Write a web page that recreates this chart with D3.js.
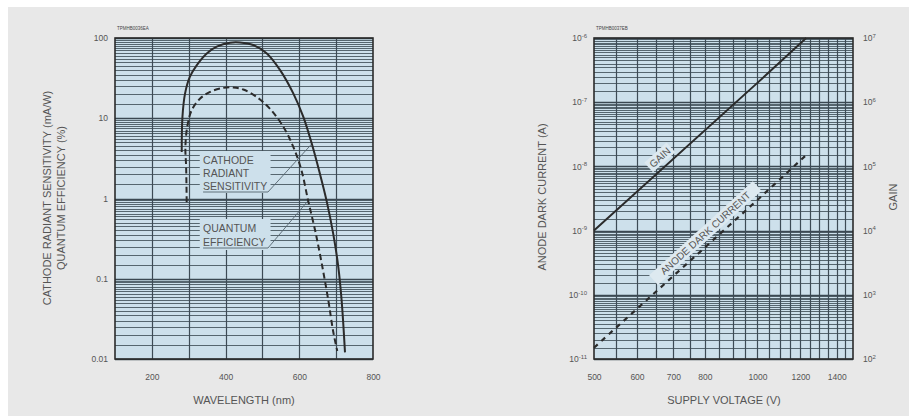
<!DOCTYPE html>
<html>
<head>
<meta charset="utf-8">
<script src="https://cdn.jsdelivr.net/npm/d3@7/dist/d3.min.js"></script>
<style>
  html, body { margin: 0; padding: 0; background: #ffffff; }
  svg { display: block; font-family: "Liberation Sans", Arial, sans-serif; }
</style>
</head>
<body>
<svg id="chart" width="909" height="416"></svg>
<script>
// ---- Spectral response (left panel) ----
const wavelengthTicks = [200, 400, 600, 800];
const responseTicks = [0.01, 0.1, 1, 10, 100];
const responseTickLabels = ["0.01", "0.1", "1", "10", "100"];

// cathode radiant sensitivity (mA/W) vs wavelength (nm)
const sensWavelength = [281, 283, 290, 303, 322, 349, 376, 412, 439, 475, 512, 548, 584, 611, 634, 656, 674, 692, 706, 715, 724];
const sensValue      = [3.8, 10.4, 20.3, 32.8, 46, 64.3, 77.9, 87.4, 88, 81.8, 64.3, 39.8, 20.3, 10.4, 4.8, 2.03, 0.94, 0.365, 0.139, 0.053, 0.0121];

// quantum efficiency (%) vs wavelength (nm)
const qeWavelength = [294.5, 293, 291, 296, 308, 331, 358, 394, 421, 448, 484, 520, 557, 584, 606, 624, 643, 661, 679, 692, 703];
const qeValue      = [0.9, 2.46, 4.38, 7.8, 12.6, 17.6, 21.3, 23.9, 24.2, 22.8, 18.5, 13.2, 7.8, 4.38, 2.24, 0.94, 0.4, 0.154, 0.053, 0.022, 0.0126];

// ---- Gain / dark current (right panel) ----
const voltageTicks = [500, 600, 700, 800, 1000, 1200, 1400];
const currentTicks = [1e-11, 1e-10, 1e-9, 1e-8, 1e-7, 1e-6];
const currentExponents = ["-11", "-10", "-9", "-8", "-7", "-6"];
const gainTicks = [1e2, 1e3, 1e4, 1e5, 1e6, 1e7];
const gainExponents = ["2", "3", "4", "5", "6", "7"];

const gainVoltage = [500, 1000, 1230];
const gainValue   = [1e4, 2.0e6, 1e7];
const darkVoltage = [500, 1000, 1240];
const darkCurrent = [1.5e-11, 3.0e-9, 1.6e-8];

// log-paper subdivisions inside each decade
const decadeSubdivisions = [1.5, 2, 2.5, 3, 3.5, 4, 4.5, 5, 5.5, 6, 6.5, 7, 7.5, 8, 8.5, 9, 9.5];

const svg = d3.select("#chart");
const INK = "#2b2b2b";
const TEXT = "#555555";
const PLOT_BG = "#cde0eb";

svg.append("rect").attr("x", 8).attr("y", 7).attr("width", 901).attr("height", 409).attr("fill", "#e8e8e8");

function minorValues(lo, hi) {
  const out = [];
  for (let e = Math.round(Math.log10(lo)); e < Math.round(Math.log10(hi)); e++) {
    decadeSubdivisions.forEach(s => out.push(s * Math.pow(10, e)));
  }
  return out;
}

function drawHorizontalGrid(g, y, x0, x1, majors) {
  const [lo, hi] = y.domain();
  g.selectAll(null).data(minorValues(lo, hi)).enter().append("line")
    .attr("x1", x0).attr("x2", x1)
    .attr("y1", d => Math.round(y(d)) + 0.5).attr("y2", d => Math.round(y(d)) + 0.5)
    .attr("stroke", "#56666f").attr("stroke-width", 1);
  g.selectAll(null).data(majors).enter().append("line")
    .attr("x1", x0).attr("x2", x1)
    .attr("y1", d => Math.round(y(d)) + 0.5).attr("y2", d => Math.round(y(d)) + 0.5)
    .attr("stroke", "#3b4852").attr("stroke-width", 1.3);
}

function drawVerticalGrid(g, x, values, y0, y1) {
  g.selectAll(null).data(values).enter().append("line")
    .attr("y1", y0).attr("y2", y1)
    .attr("x1", d => Math.round(x(d)) + 0.5).attr("x2", d => Math.round(x(d)) + 0.5)
    .attr("stroke", "#3d4b55").attr("stroke-width", 1.2);
}

function superscriptLabels(sel, exps) {
  sel.selectAll(".tick text").each(function(d, i) {
    const t = d3.select(this);
    t.text("10");
    t.append("tspan").attr("dy", -3.5).attr("font-size", 6).text(exps[i]);
  });
}

function styleAxis(sel) {
  sel.select(".domain").remove();
  sel.selectAll(".tick line").remove();
  sel.selectAll(".tick text").attr("fill", TEXT).attr("font-size", 8.5)
    .attr("font-family", "'Liberation Sans', Arial, sans-serif");
}

// ================= LEFT PANEL =================
{
  const L = 115, R = 373, T = 38, B = 359;
  const x = d3.scaleLinear().domain([100, 800]).range([L, R]);
  const y = d3.scaleLog().domain([0.01, 100]).range([B, T]);
  const g = svg.append("g");

  g.append("rect").attr("x", L).attr("y", T).attr("width", R - L).attr("height", B - T).attr("fill", PLOT_BG);
  drawHorizontalGrid(g, y, L, R, responseTicks);
  drawVerticalGrid(g, x, d3.range(200, 800, 100), T, B);

  // annotation blocks knock out the grid behind the labels
  const ann = g.append("g");
  ann.append("rect").attr("x", x(330)).attr("y", 151).attr("width", x(522) - x(330)).attr("height", 42).attr("fill", PLOT_BG);
  ann.append("rect").attr("x", x(330)).attr("y", 219).attr("width", x(522) - x(330)).attr("height", 31).attr("fill", PLOT_BG);

  const line = d3.line().curve(d3.curveCatmullRom.alpha(0.5)).x(d => x(d[0])).y(d => y(d[1]));
  g.append("path").datum(d3.zip(sensWavelength, sensValue)).attr("d", line)
    .attr("fill", "none").attr("stroke", INK).attr("stroke-width", 2);
  g.append("path").datum(d3.zip(qeWavelength, qeValue)).attr("d", line)
    .attr("fill", "none").attr("stroke", INK).attr("stroke-width", 2).attr("stroke-dasharray", "6,3.5");

  g.append("rect").attr("x", L).attr("y", T).attr("width", R - L).attr("height", B - T)
    .attr("fill", "none").attr("stroke", INK).attr("stroke-width", 1.6);

  // curve labels with leader lines
  const tx = x(339);
  const labelStyle = s => s.attr("fill", TEXT).attr("font-size", 10.5).attr("x", tx);
  ann.append("text").call(labelStyle).attr("y", 164).text("CATHODE");
  ann.append("text").call(labelStyle).attr("y", 177).text("RADIANT");
  ann.append("text").call(labelStyle).attr("y", 190).text("SENSITIVITY");
  ann.append("text").call(labelStyle).attr("y", 232).text("QUANTUM");
  ann.append("text").call(labelStyle).attr("y", 246).text("EFFICIENCY");
  const ux = x(515);
  ann.append("path").attr("d", `M${tx},192 L${ux},192 L${x(634)},${y(4.8)}`)
    .attr("fill", "none").attr("stroke", "#55646e").attr("stroke-width", 0.9);
  ann.append("path").attr("d", `M${tx},248 L${ux},248 L${x(624)},${y(0.94)}`)
    .attr("fill", "none").attr("stroke", "#55646e").attr("stroke-width", 0.9);

  g.append("g").attr("transform", `translate(0,${B + 12})`)
    .call(d3.axisBottom(x).tickValues(wavelengthTicks).tickSize(0).tickFormat(d3.format("d")))
    .call(styleAxis);
  g.append("g").attr("transform", `translate(${L - 4},0)`)
    .call(d3.axisLeft(y).tickValues(responseTicks).tickSize(0).tickFormat((d, i) => responseTickLabels[i]))
    .call(styleAxis);

  g.append("text").attr("x", L + 2).attr("y", 30).attr("font-size", 4.5).attr("fill", "#444").text("TPMHB0036EA");

  g.append("text").attr("transform", "translate(51,198) rotate(-90)").attr("text-anchor", "middle")
    .attr("fill", TEXT).attr("font-size", 11).text("CATHODE RADIANT SENSITIVITY (mA/W)");
  g.append("text").attr("transform", "translate(65,198) rotate(-90)").attr("text-anchor", "middle")
    .attr("fill", TEXT).attr("font-size", 11).text("QUANTUM EFFICIENCY (%)");
  g.append("text").attr("x", 244).attr("y", 404).attr("text-anchor", "middle")
    .attr("fill", TEXT).attr("font-size", 11).text("WAVELENGTH (nm)");
}

// ================= RIGHT PANEL =================
{
  const L = 594, R = 853, T = 38, B = 359;
  const x = d3.scaleLog().domain([500, 1500]).range([L, R]);
  const yI = d3.scaleLog().domain([1e-11, 1e-6]).range([B, T]);
  const yG = d3.scaleLog().domain([1e2, 1e7]).range([B, T]);
  const g = svg.append("g");

  g.append("rect").attr("x", L).attr("y", T).attr("width", R - L).attr("height", B - T).attr("fill", PLOT_BG);
  drawHorizontalGrid(g, yI, L, R, currentTicks);
  drawVerticalGrid(g, x, d3.range(550, 1500, 50), T, B);

  // labels along the lines, on light backing strips
  function lineLabel(xs, ys, yScale, v, text, w, off) {
    const p0 = [x(xs[0]), yScale(ys[0])];
    const p1 = [x(xs[xs.length - 1]), yScale(ys[ys.length - 1])];
    const ang = Math.atan2(p1[1] - p0[1], p1[0] - p0[0]);
    const cx = x(v);
    const t = (cx - p0[0]) / (p1[0] - p0[0]);
    const cy = p0[1] + t * (p1[1] - p0[1]);
    const nx = Math.sin(ang) * off, ny = -Math.cos(ang) * off;
    const lg = g.append("g").attr("transform", `translate(${cx + nx},${cy + ny}) rotate(${ang * 180 / Math.PI})`);
    lg.append("rect").attr("x", -w / 2).attr("y", -6.5).attr("width", w).attr("height", 13).attr("fill", "#dde9f0");
    lg.append("text").attr("text-anchor", "middle").attr("dy", "0.36em").attr("fill", TEXT)
      .attr("font-size", 10).text(text);
  }
  lineLabel(gainVoltage, gainValue, yG, 680, "GAIN", 30, 10);
  lineLabel(darkVoltage, darkCurrent, yI, 825, "ANODE DARK CURRENT", 140, 10);

  g.append("path").datum(d3.zip(gainVoltage, gainValue))
    .attr("d", d3.line().x(d => x(d[0])).y(d => yG(d[1])))
    .attr("fill", "none").attr("stroke", INK).attr("stroke-width", 2);
  g.append("path").datum(d3.zip(darkVoltage, darkCurrent))
    .attr("d", d3.line().x(d => x(d[0])).y(d => yI(d[1])))
    .attr("fill", "none").attr("stroke", INK).attr("stroke-width", 2.2).attr("stroke-dasharray", "5,5");

  g.append("rect").attr("x", L).attr("y", T).attr("width", R - L).attr("height", B - T)
    .attr("fill", "none").attr("stroke", INK).attr("stroke-width", 1.6);

  g.append("g").attr("transform", `translate(0,${B + 12})`)
    .call(d3.axisBottom(x).tickValues(voltageTicks).tickSize(0).tickFormat(d3.format("d")))
    .call(styleAxis);
  g.append("g").attr("transform", `translate(${L - 4},0)`)
    .call(d3.axisLeft(yI).tickValues(currentTicks).tickSize(0))
    .call(styleAxis).call(s => superscriptLabels(s, currentExponents));
  g.append("g").attr("transform", `translate(${R + 7},0)`)
    .call(d3.axisRight(yG).tickValues(gainTicks).tickSize(0))
    .call(styleAxis).call(s => superscriptLabels(s, gainExponents));

  g.append("text").attr("x", L + 2).attr("y", 30).attr("font-size", 4.5).attr("fill", "#444").text("TPMHB0037EB");

  g.append("text").attr("transform", "translate(546,197) rotate(-90)").attr("text-anchor", "middle")
    .attr("fill", TEXT).attr("font-size", 11).text("ANODE DARK CURRENT (A)");
  g.append("text").attr("transform", "translate(897,197) rotate(-90)").attr("text-anchor", "middle")
    .attr("fill", TEXT).attr("font-size", 11).text("GAIN");
  g.append("text").attr("x", 724).attr("y", 404).attr("text-anchor", "middle")
    .attr("fill", TEXT).attr("font-size", 11).text("SUPPLY VOLTAGE (V)");
}
</script>
</body>
</html>
